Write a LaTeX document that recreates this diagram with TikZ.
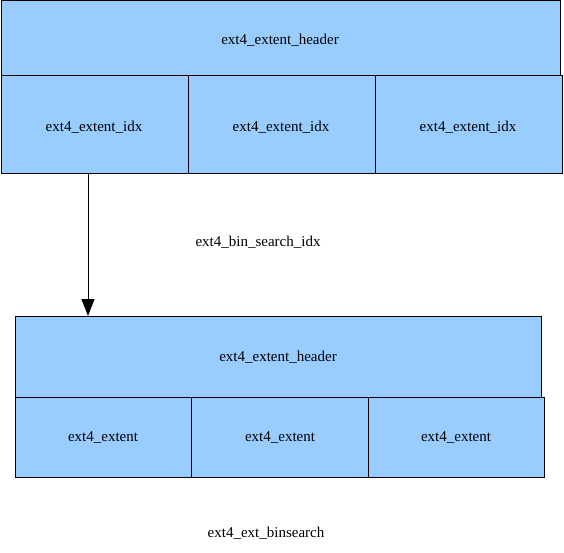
\documentclass[tikz,border=0pt]{standalone}
\usepackage{fontspec}
\setmainfont{Liberation Serif}
\newfontfamily\lblfont{Liberation Serif}
\usetikzlibrary{arrows.meta}
\definecolor{boxblue}{RGB}{153,204,255}
\begin{document}
\begin{tikzpicture}[x=1pt,y=-1pt,
  cell/.style={draw=black,fill=boxblue,line width=1pt},
  lbl/.style={font=\lblfont\fontsize{15}{17}\selectfont,inner sep=0pt,anchor=center},
  conn/.style={draw=black,line width=1pt,-{Triangle[length=17pt,width=13pt]}}]
\useasboundingbox (0,0) rectangle (564,553);
% top structure
\path[cell] (1,0.5) rectangle (560,76);
\path[cell] (1,76) rectangle (188,174);
\path[cell] (188,76) rectangle (375,174);
\path[cell] (375,76) rectangle (562,174);
\node[lbl] (h1) at (280,40) {ext4\_extent\_header};
\node[lbl] (i1) at (94,127) {ext4\_extent\_idx};
\node[lbl] (i2) at (281,127) {ext4\_extent\_idx};
\node[lbl] (i3) at (468,127) {ext4\_extent\_idx};
\node[lbl] (t1) at (258,242) {ext4\_bin\_search\_idx};
% bottom structure
\path[cell] (15,316) rectangle (541,397);
\path[cell] (15,397) rectangle (191,477);
\path[cell] (191,397) rectangle (368,477);
\path[cell] (368,397) rectangle (544,477);
\node[lbl] (h2) at (278,357) {ext4\_extent\_header};
\node[lbl] (e1) at (103,438) {ext4\_extent};
\node[lbl] (e2) at (280,438) {ext4\_extent};
\node[lbl] (e3) at (456,438) {ext4\_extent};
\node[lbl] (t2) at (266,533) {ext4\_ext\_binsearch};
\coordinate (s) at (88,174);
\coordinate (e) at (88,316);
\draw[conn] (s) -- (e);
\end{tikzpicture}
\end{document}
